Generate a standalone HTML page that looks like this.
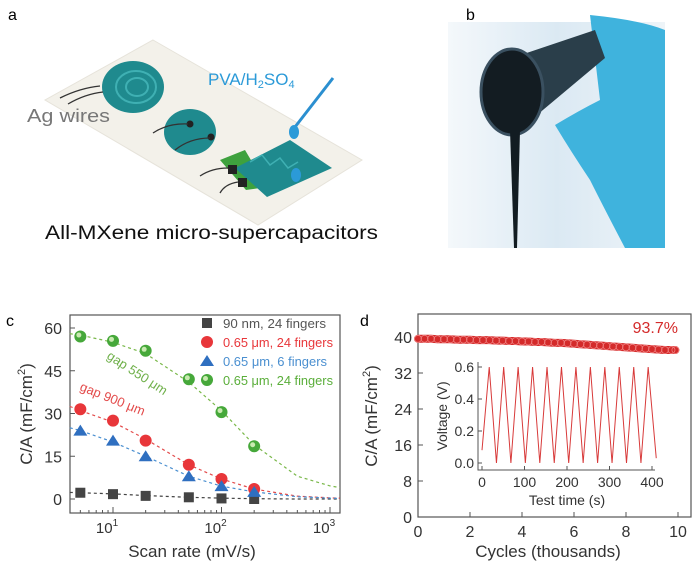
<!DOCTYPE html>
<html><head><meta charset="utf-8"><style>
html,body{margin:0;padding:0;background:#fff}
svg{display:block;font-family:"Liberation Sans",sans-serif}
</style></head><body>
<svg id="fig" width="700" height="568" viewBox="0 0 700 568">
<defs>
<linearGradient id="bg" x1="0" y1="0" x2="1" y2="0"><stop offset="0" stop-color="#f4f8fb"/><stop offset="0.5" stop-color="#dbe9f3"/><stop offset="1" stop-color="#eef4f8"/></linearGradient>
</defs>
<g>
<text x="8" y="20" font-size="16">a</text>
<polygon points="153,40 362,160 258,225 45,100" fill="#f3f1ea" stroke="#e6e3da"/>
<ellipse cx="133" cy="87" rx="31" ry="26" fill="#1f8a8e"/>
<ellipse cx="136" cy="87" rx="20" ry="16" fill="none" stroke="#3fb0b3" stroke-width="2"/>
<ellipse cx="137" cy="87" rx="11" ry="9" fill="none" stroke="#3fb0b3" stroke-width="2"/>
<ellipse cx="190" cy="132" rx="26" ry="23" fill="#1f8a8e"/>
<circle cx="190" cy="124" r="3.5" fill="#222"/><circle cx="211" cy="137" r="3.5" fill="#222"/>
<polygon points="220,160 245,150 267,187 246,190" fill="#3ea13e"/>
<polygon points="290,140 332,168 267,197 235,168" fill="#1f8a8e"/>
<path d="M250 162 L262 155 L270 165 L280 158 L288 168 L298 162" stroke="#3fb0b3" fill="none" stroke-width="1.5"/>
<rect x="228" y="165" width="9" height="9" fill="#222"/><rect x="238" y="178" width="9" height="9" fill="#222"/>
<path d="M100 86 Q80 88 60 98 M103 92 Q85 94 68 104 M188 124 Q168 123 153 133 M210 138 Q190 138 175 150 M228 168 Q212 168 200 176 M238 182 Q225 184 220 193" stroke="#333" fill="none" stroke-width="1.3"/>
<line x1="333" y1="78" x2="295" y2="127" stroke="#2b8fd0" stroke-width="3"/>
<ellipse cx="294" cy="132" rx="5" ry="7" fill="#2b9ad8"/>
<ellipse cx="296" cy="175" rx="5" ry="7" fill="#2b9ad8"/>
<text x="27" y="122" font-size="18" fill="#777" textLength="83" lengthAdjust="spacingAndGlyphs">Ag wires</text>
<text x="208" y="85" font-size="17" fill="#2b9ad8">PVA/H<tspan font-size="11" dy="3">2</tspan><tspan dy="-3">SO</tspan><tspan font-size="11" dy="3">4</tspan></text>
<text x="45" y="239" font-size="19" fill="#111" textLength="333" lengthAdjust="spacingAndGlyphs">All-MXene micro-supercapacitors</text>
</g>
<g>
<rect x="448" y="22" width="217" height="226" fill="url(#bg)"/>
<path d="M590 15 Q640 20 665 30 L665 248 L625 248 Q605 210 590 180 Q570 150 555 125 Q580 110 600 100 Z" fill="#3fb3dd"/>
<polygon points="500,62 595,30 605,58 525,125" fill="#2a3e4a"/>
<ellipse cx="512" cy="92" rx="31" ry="43" fill="#131c22" stroke="#3a5060" stroke-width="3"/>
<path d="M510 130 L520 130 L517 248 L514 248 Z" fill="#121c22"/>
<text x="466" y="20" font-size="16">b</text>
</g>
<g id="pc"></g>
<g id="pd"></g>
</svg>
<script>
const NS="http://www.w3.org/2000/svg";
function mk(p,t,a,txt){const e=document.createElementNS(NS,t);for(const k in a)e.setAttribute(k,a[k]);if(txt!==undefined)e.textContent=txt;p.appendChild(e);return e;}
const cRates=[5,10,20,50,100,200];
const cBlack=[2.2,1.7,1.1,0.6,0.2,0];
const cRed=[31.5,27.5,20.5,12,7,3.5];
const cBlue=[24,20.5,15,8,4.5,2.5];
const cGreen=[57,55.5,52,42,30.5,18.5];
const fitX=[4,5,10,20,50,100,200,500,1000,1230];
const fitGreen=[58,57.5,55,51,41,31,19,8,4.6,4];
const fitRed=[32.5,31,27,21,12,7,3.5,1,0.4,0.3];
const fitBlue=[25,24,20,15,8,4.5,2.5,0.8,0.3,0.2];
const fitBlack=[2.3,2.2,1.8,1.2,0.6,0.3,0.1,0,0,0];
const cYTicks=[0,15,30,45,60];
const cXTicks=[10,100,1000];
const cLegend=["90 nm, 24 fingers","0.65 μm, 24 fingers","0.65 μm, 6 fingers","0.65 μm, 24 fingers"];
const dCycles=[0,0.25,0.5,0.75,1,1.25,1.5,1.75,2,2.25,2.5,2.75,3,3.25,3.5,3.75,4,4.25,4.5,4.75,5,5.25,5.5,5.75,6,6.25,6.5,6.75,7,7.25,7.5,7.75,8,8.25,8.5,8.75,9,9.25,9.5,9.75,9.9];
const dCap=[39.6,39.6,39.6,39.5,39.5,39.5,39.4,39.4,39.4,39.3,39.3,39.3,39.2,39.2,39.1,39.1,39.0,39.0,38.9,38.9,38.8,38.7,38.7,38.6,38.5,38.4,38.3,38.2,38.1,38.0,37.9,37.8,37.7,37.6,37.5,37.4,37.3,37.2,37.1,37.1,37.1];
const dYTicks=[0,8,16,24,32,40];
const dXTicks=[0,2,4,6,8,10];
const inT=[0,17,34,51,68,85,102,119,136,153,170,187,204,221,238,255,272,289,306,323,340,357,374,391,410];
const inV=[0.08,0.6,0,0.6,0,0.6,0,0.6,0,0.6,0,0.6,0,0.6,0,0.6,0,0.6,0,0.6,0,0.6,0,0.6,0.03];
const inXTicks=[0,100,200,300,400];
const inYTicks=[0,0.2,0.4,0.6];

(function(){
const g=document.getElementById('pc');
const L=70,R=340,T=315,B=513;
const xs=v=>113+(Math.log10(v)-1)*108.5;
const ys=v=>499-v*2.85;
mk(g,'text',{x:6,y:326,'font-size':16}, 'c');
const box=mk(g,'rect',{x:L,y:T,width:R-L,height:B-T,fill:'none',stroke:'#555','stroke-width':1.2});

cYTicks.forEach(v=>{mk(g,'line',{x1:L,x2:L+5,y1:ys(v),y2:ys(v),stroke:'#555'});
 const t=mk(g,'text',{x:L-8,y:ys(v)+6,'font-size':16,'text-anchor':'end',fill:'#333'},String(v));
 });
for(let d=0;d<4;d++)for(let m=1;m<10;m++){const v=Math.pow(10,d)*m;const x=xs(v);if(x<L||x>R)continue;
 mk(g,'line',{x1:x,x2:x,y1:B,y2:B-(m==1?6:3),stroke:'#555'});}
cXTicks.forEach(v=>{const t=mk(g,'text',{x:xs(v)-6,y:B+20,'font-size':15,'text-anchor':'middle',fill:'#333'});
 t.innerHTML='10<tspan font-size="10" dy="-7">'+Math.log10(v)+'</tspan>';
 });
const xl=mk(g,'text',{x:192,y:557,'font-size':17,'text-anchor':'middle',fill:'#333'},'Scan rate (mV/s)');

const yl=mk(g,'text',{x:0,y:0,'font-size':17,'text-anchor':'middle',fill:'#333',transform:'translate(32,414) rotate(-90)'});
yl.innerHTML='C/A (mF/cm<tspan font-size="11" dy="-7">2</tspan><tspan dy="7">)</tspan>';

const fits=[[fitBlack,'#444'],[fitRed,'#e34b4b'],[fitBlue,'#4a8fd0'],[fitGreen,'#7ab84a']];
fits.forEach(([arr,c],i)=>{const d=fitX.map((x,j)=>(j?'L':'M')+xs(x)+' '+ys(arr[j])).join(' ');
 const p=mk(g,'path',{d:d,fill:'none',stroke:c,'stroke-width':1.2,'stroke-dasharray':'3,3'});
 });
function marker(shape,x,y,c,name){let e;
 if(shape=='sq')e=mk(g,'rect',{x:x-5,y:y-5,width:10,height:10,fill:c});
 else if(shape=='tri')e=mk(g,'polygon',{points:`${x},${y-6} ${x-7},${y+5} ${x+7},${y+5}`,fill:c});
 else if(shape=='ball'){e=mk(g,'circle',{cx:x,cy:y,r:6,fill:c});mk(g,'circle',{cx:x-1.5,cy:y-1.5,r:2.5,fill:'#c8eab0'});}
 else e=mk(g,'circle',{cx:x,cy:y,r:6,fill:c});
 }
const series=[[cBlack,'sq','#444'],[cRed,'c','#e8363a'],[cBlue,'tri','#2f6fc0'],[cGreen,'ball','#46a83a']];
series.forEach(([arr,s,c],i)=>cRates.forEach((r,j)=>marker(s,xs(r),ys(arr[j]),c,'point-series-'+i)));
const lc=['#555','#e8363a','#4a8fd0','#5aae3a'];
series.forEach(([a,s,c],i)=>{const y=323+i*19;marker(s,207,y,c,'legend-marker');
 const t=mk(g,'text',{x:223,y:y+5,'font-size':13,fill:lc[i],textLength:[103,110,104,110][i],lengthAdjust:'spacingAndGlyphs'},cLegend[i]);
 });
const a1=mk(g,'text',{x:0,y:0,'font-size':13,fill:'#6fb04a',transform:'translate(106,358) rotate(33)'},'gap 550 μm');

const a2=mk(g,'text',{x:0,y:0,'font-size':13,fill:'#e34b4b',transform:'translate(79,390) rotate(22)'},'gap 900 μm');

})();
(function(){
const g=document.getElementById('pd');
const L=418,R=691,T=314,B=517;
const xs=v=>418+v*26;
const ys=v=>517-v*4.5;
mk(g,'text',{x:360,y:326,'font-size':16},'d');
const box=mk(g,'rect',{x:L,y:T,width:R-L,height:B-T,fill:'none',stroke:'#555','stroke-width':1.2});

dYTicks.forEach(v=>{mk(g,'line',{x1:L,x2:L+5,y1:ys(v),y2:ys(v),stroke:'#555'});
 const t=mk(g,'text',{x:L-6,y:ys(v)+6,'font-size':16,'text-anchor':'end',fill:'#333'},String(v));
 });
dXTicks.forEach(v=>{mk(g,'line',{x1:xs(v),x2:xs(v),y1:B,y2:B-5,stroke:'#555'});
 const t=mk(g,'text',{x:xs(v),y:B+20,'font-size':16,'text-anchor':'middle',fill:'#333'},String(v));
 });
const xl=mk(g,'text',{x:548,y:557,'font-size':17,'text-anchor':'middle',fill:'#333'},'Cycles (thousands)');

const yl=mk(g,'text',{x:0,y:0,'font-size':17,'text-anchor':'middle',fill:'#333',transform:'translate(377,416) rotate(-90)'});
yl.innerHTML='C/A (mF/cm<tspan font-size="11" dy="-7">2</tspan><tspan dy="7">)</tspan>';

const band=mk(g,'path',{d:dCycles.map((c,i)=>(i?'L':'M')+xs(c)+' '+ys(dCap[i])).join(' '),fill:'none',stroke:'#d42a2a','stroke-width':8,'stroke-linecap':'round'});

dCycles.forEach((c,i)=>{const e=mk(g,'circle',{cx:xs(c),cy:ys(dCap[i]),r:3.5,fill:'none',stroke:'#f08080','stroke-width':0.8});
 });
const pct=mk(g,'text',{x:678,y:333,'font-size':16,'text-anchor':'end',fill:'#d42a2a'},'93.7%');

const iL=478,iR=655,iT=362,iB=470;
const ix=v=>482+v*0.425, iy=v=>463-v*160;
const ax=mk(g,'path',{d:`M${iL} ${iT} L${iL} ${iB} L${iR} ${iB}`,fill:'none',stroke:'#555'});

inYTicks.forEach(v=>{mk(g,'line',{x1:iL,x2:iL+4,y1:iy(v),y2:iy(v),stroke:'#555'});
 const t=mk(g,'text',{x:iL-4,y:iy(v)+5,'font-size':14,'text-anchor':'end',fill:'#333'},v.toFixed(1));
 });
inXTicks.forEach(v=>{mk(g,'line',{x1:ix(v),x2:ix(v),y1:iB,y2:iB-4,stroke:'#555'});
 const t=mk(g,'text',{x:ix(v),y:iB+17,'font-size':14,'text-anchor':'middle',fill:'#333'},String(v));
 });
const it=mk(g,'text',{x:567,y:505,'font-size':14,'text-anchor':'middle',fill:'#333'},'Test time (s)');

const iyt=mk(g,'text',{x:0,y:0,'font-size':14,'text-anchor':'middle',fill:'#333',transform:'translate(447,416) rotate(-90)'},'Voltage (V)');

const w=mk(g,'path',{d:inT.map((t,i)=>(i?'L':'M')+ix(t)+' '+iy(inV[i])).join(' '),fill:'none',stroke:'#d83a3a','stroke-width':1});

})();
</script>
</body></html>
